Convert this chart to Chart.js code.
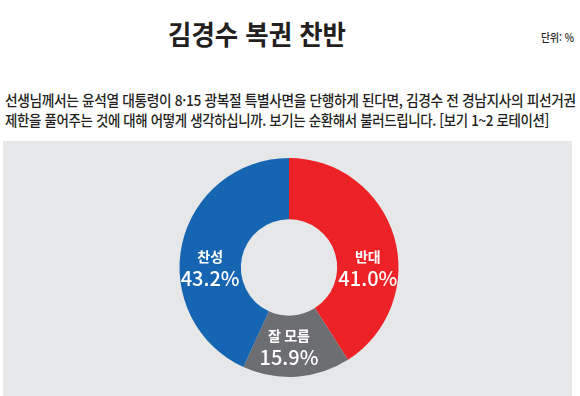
<!DOCTYPE html>
<html lang="ko">
<head>
<meta charset="utf-8">
<script src="https://cdn.jsdelivr.net/npm/chart.js@4.4.0/dist/chart.umd.min.js"></script>
<style>
  html, body { margin: 0; padding: 0; background: #fff; }
  body { width: 580px; height: 396px; position: relative; overflow: hidden; font-family: "Noto Sans CJK KR", "Noto Sans", sans-serif; color: #231f20; }
  .fit { position: absolute; white-space: nowrap; transform-origin: 0 0; }
  #title { font-size: 27px; font-weight: 700; left: 168px; top: 14px; line-height: 40px; }
  #unit { font-size: 11px; font-weight: 500; left: 541px; top: 29px; line-height: 16px; }
  #q1, #q2 { font-size: 15px; font-weight: 500; left: 5px; line-height: 20px; letter-spacing: -0.4px; }
  #q1 { top: 90px; }
  #q2 { top: 110px; }
  #panel { position: absolute; left: 3px; top: 141px; width: 569px; height: 255px; background: #e6e7e8; }
</style>
</head>
<body>
<div id="title" class="fit" data-w="178">김경수 복권 찬반</div>
<div id="unit" class="fit" data-w="33">단위: %</div>
<div id="q1" class="fit" data-w="571">선생님께서는 윤석열 대통령이 8·15 광복절 특별사면을 단행하게 된다면, 김경수 전 경남지사의 피선거권</div>
<div id="q2" class="fit" data-w="544">제한을 풀어주는 것에 대해 어떻게 생각하십니까. 보기는 순환해서 불러드립니다. [보기 1~2 로테이션]</div>
<div id="panel"><canvas id="pie" width="569" height="255"></canvas></div>
<script>
// data, clockwise from 12 o'clock
const categories = ["반대", "잘 모름", "찬성"];
const values = [41.0, 15.9, 43.2];
const colors = ["#ec2227", "#6d6e71", "#1665b3"];

// squeeze condensed text into the width it takes in the picture
document.querySelectorAll(".fit").forEach(el => {
  const target = Number(el.dataset.w);
  const w = el.scrollWidth;
  if (w > 0) el.style.transform = `scaleX(${target / w})`;
});

// labels inside ring, snapped to a cardinal direction when the slice covers one
const sliceLabels = {
  id: "sliceLabels",
  afterDatasetsDraw(chart) {
    const { ctx } = chart;
    const arcs = chart.getDatasetMeta(0).data;
    arcs.forEach((arc, i) => {
      const { x, y, startAngle, endAngle, innerRadius, outerRadius } = arc.getProps(["x", "y", "startAngle", "endAngle", "innerRadius", "outerRadius"], true);
      const mid = (startAngle + endAngle) / 2;
      let ang = mid, best = Infinity;
      for (let k = -4; k <= 8; k++) {
        const a = k * Math.PI / 2;
        if (a > startAngle && a < endAngle && Math.abs(a - mid) < best) { best = Math.abs(a - mid); ang = a; }
      }
      const r = (innerRadius + outerRadius) / 2;
      const cx = x + Math.cos(ang) * r;
      const cy = y + Math.sin(ang) * r;
      ctx.save();
      ctx.fillStyle = "#fff";
      ctx.textAlign = "center";
      ctx.textBaseline = "middle";
      ctx.font = "700 14px 'Noto Sans CJK KR'";
      ctx.fillText(categories[i], cx, cy - 11);
      ctx.font = "500 20px 'Noto Sans CJK KR'";
      ctx.fillText(values[i].toFixed(1) + "%", cx, cy + 11);
      ctx.restore();
    });
  }
};

new Chart(document.getElementById("pie"), {
  type: "doughnut",
  data: {
    labels: categories,
    datasets: [{ data: values, backgroundColor: colors, borderWidth: 0 }]
  },
  options: {
    responsive: false,
    animation: false,
    cutout: "44%",
    layout: { padding: { top: 17, bottom: 19, left: 3, right: 0 } },
    plugins: { legend: { display: false }, tooltip: { enabled: false } }
  },
  plugins: [sliceLabels]
});
</script>
</body>
</html>
